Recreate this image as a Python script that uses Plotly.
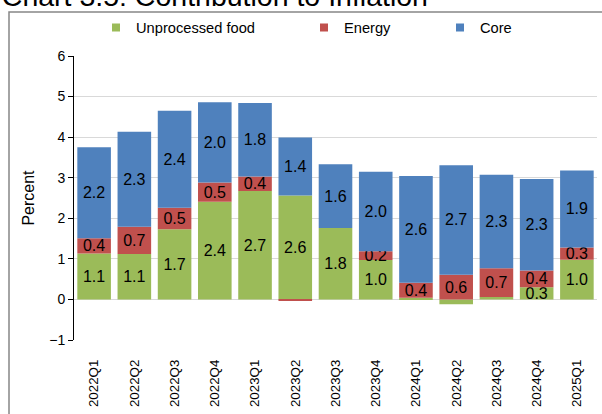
import plotly.graph_objects as go

quarters = ['2022Q1', '2022Q2', '2022Q3', '2022Q4', '2023Q1', '2023Q2', '2023Q3',
            '2023Q4', '2024Q1', '2024Q2', '2024Q3', '2024Q4', '2025Q1']
food = [1.13, 1.12, 1.73, 2.41, 2.67, 2.56, 1.76, 0.97, 0.04, -0.12, 0.06, 0.30, 0.98]
energy = [0.38, 0.67, 0.53, 0.47, 0.36, -0.04, 0.0, 0.22, 0.37, 0.61, 0.71, 0.41, 0.30]
core = [2.24, 2.34, 2.39, 1.98, 1.81, 1.43, 1.57, 1.96, 2.63, 2.70, 2.30, 2.26, 1.90]

FONT = 'Liberation Sans, Arial, sans-serif'

# name, values, colour, legend entry width
series = [
    ('Unprocessed food', food, '#9BBB59', 163),
    ('Energy', energy, '#C0504D', 91),
    ('Core', core, '#4F81BD', None),
]

def labels(vals):
    # tiny slices carry no label in the original
    return [f'{v:.1f}' if abs(v) >= 0.15 else '' for v in vals]

fig = go.Figure()
for name, vals, color, _ in series:
    fig.add_trace(go.Bar(
        x=quarters, y=vals, name=name, marker_color=color, marker_line_width=0,
        text=labels(vals), textposition='inside', insidetextanchor='middle',
        textangle=0, textfont=dict(color='black', size=16, family=FONT),
        legendgroup=name, showlegend=False
    ))
# legend entries with small square markers
for name, vals, color, lw in series:
    fig.add_trace(go.Scatter(
        x=[None], y=[None], mode='markers', name=name, legendgroup=name,
        marker=dict(symbol='square', size=8, color=color), legendwidth=lw
    ))

fig.update_layout(
    width=602, height=414,
    margin={'t': 56, 'r': 5, 'b': 74, 'l': 74},
    barmode='relative', bargap=0.165,
    plot_bgcolor='white', paper_bgcolor='white',
    font=dict(family=FONT, color='black'),
    uniformtext=dict(minsize=16, mode='show'),
    title=dict(text='Chart 3.5: Contribution to Inflation', font=dict(size=28.5, color='black'),
               x=0.003, xanchor='left', xref='container',
               y=1 - 6 / 414, yanchor='bottom', yref='container'),
    legend=dict(orientation='h', xref='container', x=96 / 602, xanchor='left',
                yref='container', y=1 - 28 / 414, yanchor='middle',
                font=dict(size=14.67), bgcolor='rgba(0,0,0,0)', itemwidth=30),
    xaxis=dict(type='category', showgrid=False, showline=False, ticks='',
               tickangle=-90, tickfont=dict(size=13.33), ticklabelstandoff=16,
               automargin=False),
    xaxis2=dict(overlaying='x', anchor='free', position=1 / 7, range=[-0.5, 12.5],
                tickvals=[i - 0.5 for i in range(14)], showticklabels=False,
                ticks='outside', ticklen=5, tickcolor='black', showgrid=False,
                zeroline=False, showline=True, linecolor='black', linewidth=1),
    yaxis=dict(range=[-1, 6], dtick=1, showgrid=True, gridcolor='#D9D9D9', gridwidth=1,
               zeroline=False, showline=True, linecolor='black', ticks='outside',
               ticklen=5, tickcolor='black', tickfont=dict(size=14), automargin=False,
               title=dict(text='Percent', font=dict(size=16), standoff=10)),
    shapes=[dict(type='rect', xref='paper', yref='paper',
                 x0=(9 - 74) / 523, x1=(620 - 74) / 523,
                 y0=(340 - 430) / 284, y1=(340 - 12) / 284,
                 line=dict(color='#868686', width=1.5), fillcolor='rgba(0,0,0,0)',
                 layer='below')],
)

fig.write_html('out.html', config={'displayModeBar': False},
               post_script="document.body.style.margin = '0';")
